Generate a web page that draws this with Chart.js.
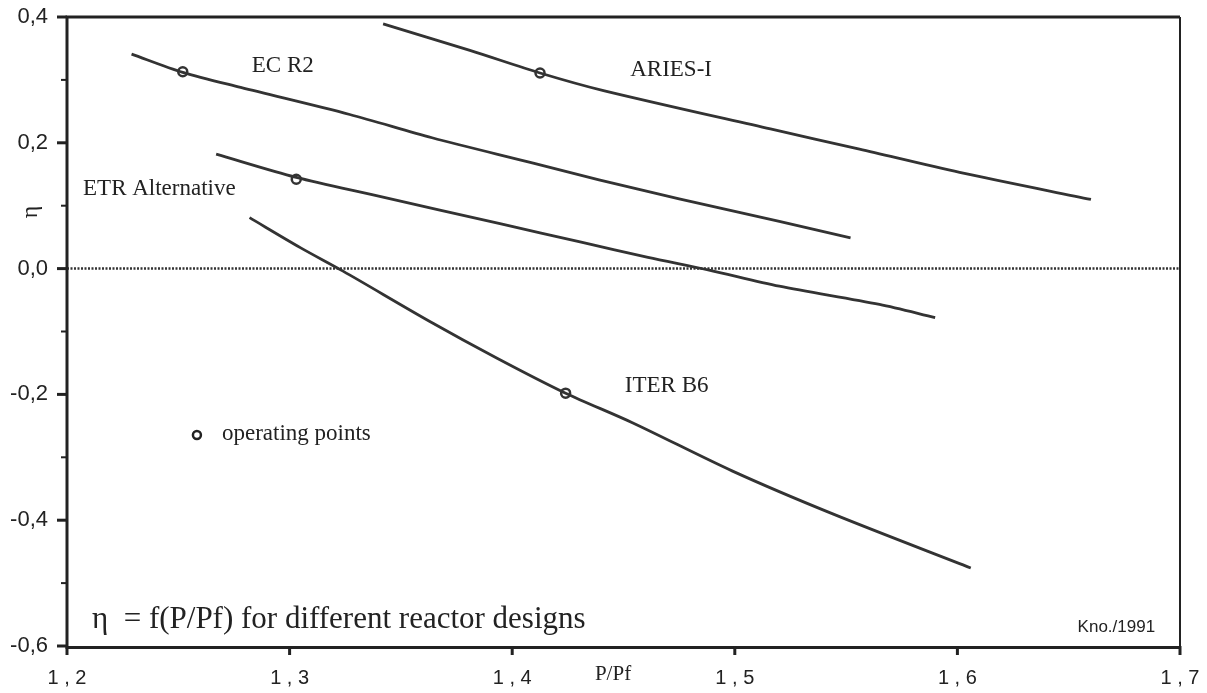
<!DOCTYPE html>
<html>
<head>
<meta charset="utf-8">
<script src="https://cdn.jsdelivr.net/npm/chart.js@4"></script>
<style>
html, body { margin: 0; padding: 0; background: #fff; }
#wrap { width: 1207px; height: 693px; }
</style>
</head>
<body>
<div id="wrap"><canvas id="chart"></canvas></div>
<script>
// curves (P/Pf, eta)
var aries_x = [1.342, 1.381, 1.4125, 1.441, 1.516, 1.556, 1.601, 1.66];
var aries_y = [0.389, 0.347, 0.311, 0.283, 0.222, 0.190, 0.153, 0.110];

var ecr2_x = [1.229, 1.252, 1.278, 1.327, 1.364, 1.409, 1.439, 1.475, 1.520, 1.552];
var ecr2_y = [0.341, 0.312, 0.288, 0.245, 0.208, 0.168, 0.141, 0.111, 0.075, 0.049];

var etr_x = [1.267, 1.303, 1.339, 1.395, 1.431, 1.461, 1.488, 1.520, 1.565, 1.590];
var etr_y = [0.182, 0.145, 0.116, 0.071, 0.042, 0.018, -0.002, -0.028, -0.057, -0.078];

var iter_x = [1.282, 1.305, 1.324, 1.363, 1.393, 1.424, 1.454, 1.499, 1.544, 1.606];
var iter_y = [0.081, 0.033, -0.004, -0.084, -0.142, -0.198, -0.245, -0.322, -0.390, -0.476];

// operating points
var op_x = [1.252, 1.303, 1.4125, 1.424];
var op_y = [0.313, 0.142, 0.311, -0.198];

var x_ticks = ["1 , 2", "1 , 3", "1 , 4", "1 , 5", "1 , 6", "1 , 7"];
var y_ticks = ["-0,6", "-0,4", "-0,2", "0,0", "0,2", "0,4"];

var ink = '#333';

function pts(xs, ys) {
    var out = [];
    for (var i = 0; i < xs.length; i++) out.push({x: xs[i], y: ys[i]});
    return out;
}

function curve(label, xs, ys) {
    return {
        label: label,
        data: pts(xs, ys),
        showLine: true,
        borderColor: ink,
        borderWidth: 2.8,
        pointRadius: 0,
        tension: 0.3
    };
}

// text placed in data units
var notes = [
    {text: 'EC R2', x: 1.2830, y: 0.322, font: '23px "Liberation Serif"'},
    {text: 'ARIES-I', x: 1.4530, y: 0.316, font: '23px "Liberation Serif"'},
    {text: 'ETR Alternative', x: 1.2072, y: 0.127, font: '23px "Liberation Serif"'},
    {text: 'ITER B6', x: 1.4506, y: -0.186, font: '23px "Liberation Serif"'},
    {text: 'operating points', x: 1.2696, y: -0.263, font: '23px "Liberation Serif"'},
    {text: '\u03b7  = f(P/Pf) for different reactor designs', x: 1.2112, y: -0.558, font: '31px "Liberation Serif"'},
    {text: 'Kno./1991', x: 1.6540, y: -0.570, font: '17px "Liberation Sans"'}
];

var frame = {
    id: 'frame',
    beforeDatasetsDraw: function(chart) {
        var ctx = chart.ctx, a = chart.chartArea, ys = chart.scales.y;
        var y0 = ys.getPixelForValue(0);
        ctx.save();
        ctx.strokeStyle = ink;
        ctx.lineWidth = 2.5;
        ctx.setLineDash([2, 1.5]);
        ctx.beginPath();
        ctx.moveTo(a.left, y0);
        ctx.lineTo(a.right, y0);
        ctx.stroke();
        ctx.restore();
    },
    afterDraw: function(chart) {
        var ctx = chart.ctx, a = chart.chartArea;
        var xs = chart.scales.x, ys = chart.scales.y;
        ctx.save();
        ctx.strokeStyle = '#222';
        ctx.lineCap = 'butt';
        // frame
        ctx.lineWidth = 3;
        ctx.beginPath();
        ctx.moveTo(a.left, a.top); ctx.lineTo(a.right, a.top);
        ctx.moveTo(a.left, a.top - 1.5); ctx.lineTo(a.left, a.bottom + 1.5);
        ctx.lineTo(a.right, a.bottom + 1.5);
        ctx.stroke();
        ctx.lineWidth = 2;
        ctx.beginPath();
        ctx.moveTo(a.right, a.top); ctx.lineTo(a.right, a.bottom);
        ctx.stroke();
        // y ticks, long at 0.2 steps, short in between
        ys.ticks.forEach(function(t) {
            var p = ys.getPixelForValue(t.value);
            var major = Math.round(t.value * 10) % 2 === 0;
            ctx.lineWidth = major ? 3 : 2;
            ctx.beginPath();
            ctx.moveTo(a.left - (major ? 10 : 6), p);
            ctx.lineTo(a.left, p);
            ctx.stroke();
        });
        // x ticks
        ctx.lineWidth = 3;
        xs.ticks.forEach(function(t) {
            var p = xs.getPixelForValue(t.value);
            ctx.beginPath();
            ctx.moveTo(p, a.bottom);
            ctx.lineTo(p, a.bottom + 9);
            ctx.stroke();
        });
        // notes
        ctx.fillStyle = '#222';
        ctx.textBaseline = 'middle';
        ctx.textAlign = 'left';
        notes.forEach(function(n) {
            ctx.font = n.font;
            ctx.fillText(n.text, xs.getPixelForValue(n.x), ys.getPixelForValue(n.y));
        });
        // legend marker next to "operating points"
        ctx.lineWidth = 2.5;
        ctx.fillStyle = '#fff';
        ctx.beginPath();
        ctx.arc(xs.getPixelForValue(1.2696) - 25, ys.getPixelForValue(-0.263) + 1, 4, 0, Math.PI * 2);
        ctx.fill();
        ctx.stroke();
        // axis titles
        ctx.fillStyle = '#222';
        ctx.font = '21px "Liberation Serif"';
        ctx.textAlign = 'center';
        ctx.fillText('P/Pf', xs.getPixelForValue(1.4453), a.bottom + 28);
        ctx.save();
        ctx.translate(31, 212);
        ctx.rotate(-Math.PI / 2);
        ctx.font = '24px "Liberation Serif"';
        ctx.fillText('\u03b7', 0, 0);
        ctx.restore();
        ctx.restore();
    }
};

new Chart(document.getElementById('chart'), {
    type: 'scatter',
    data: {
        datasets: [
            curve('ARIES-I', aries_x, aries_y),
            curve('EC R2', ecr2_x, ecr2_y),
            curve('ETR Alternative', etr_x, etr_y),
            curve('ITER B6', iter_x, iter_y),
            {
                label: 'operating points',
                data: pts(op_x, op_y),
                showLine: false,
                pointRadius: 4.5,
                pointBorderWidth: 2.5,
                pointBorderColor: ink,
                pointBackgroundColor: '#fff'
            }
        ]
    },
    options: {
        responsive: true,
        maintainAspectRatio: false,
        animation: false,
        layout: { padding: { top: 17, right: 27, left: 0, bottom: 0 } },
        plugins: {
            legend: { display: false },
            tooltip: { enabled: false }
        },
        scales: {
            x: {
                type: 'linear',
                min: 1.2,
                max: 1.7,
                grid: { display: false },
                border: { display: false },
                afterFit: function(s) {
                    s.height = 47;
                    s.paddingLeft = 0;
                    s.paddingRight = 0;
                },
                ticks: {
                    stepSize: 0.1,
                    autoSkip: false,
                    maxRotation: 0,
                    padding: 12,
                    color: '#222',
                    font: { family: '"Liberation Sans"', size: 20 },
                    callback: function(v) {
                        var i = Math.round((v - 1.2) * 10);
                        return x_ticks[i];
                    }
                }
            },
            y: {
                min: -0.6,
                max: 0.4,
                grid: { display: false },
                border: { display: false },
                afterFit: function(s) {
                    s.width = 67;
                    s.paddingTop = 0;
                    s.paddingBottom = 0;
                },
                ticks: {
                    stepSize: 0.1,
                    autoSkip: false,
                    padding: 11,
                    color: '#222',
                    font: { family: '"Liberation Sans"', size: 22 },
                    callback: function(v) {
                        var k = Math.round(v * 10);
                        if (k % 2 !== 0) return '';
                        return y_ticks[(k + 6) / 2];
                    }
                }
            }
        }
    },
    plugins: [frame]
});
</script>
</body>
</html>
